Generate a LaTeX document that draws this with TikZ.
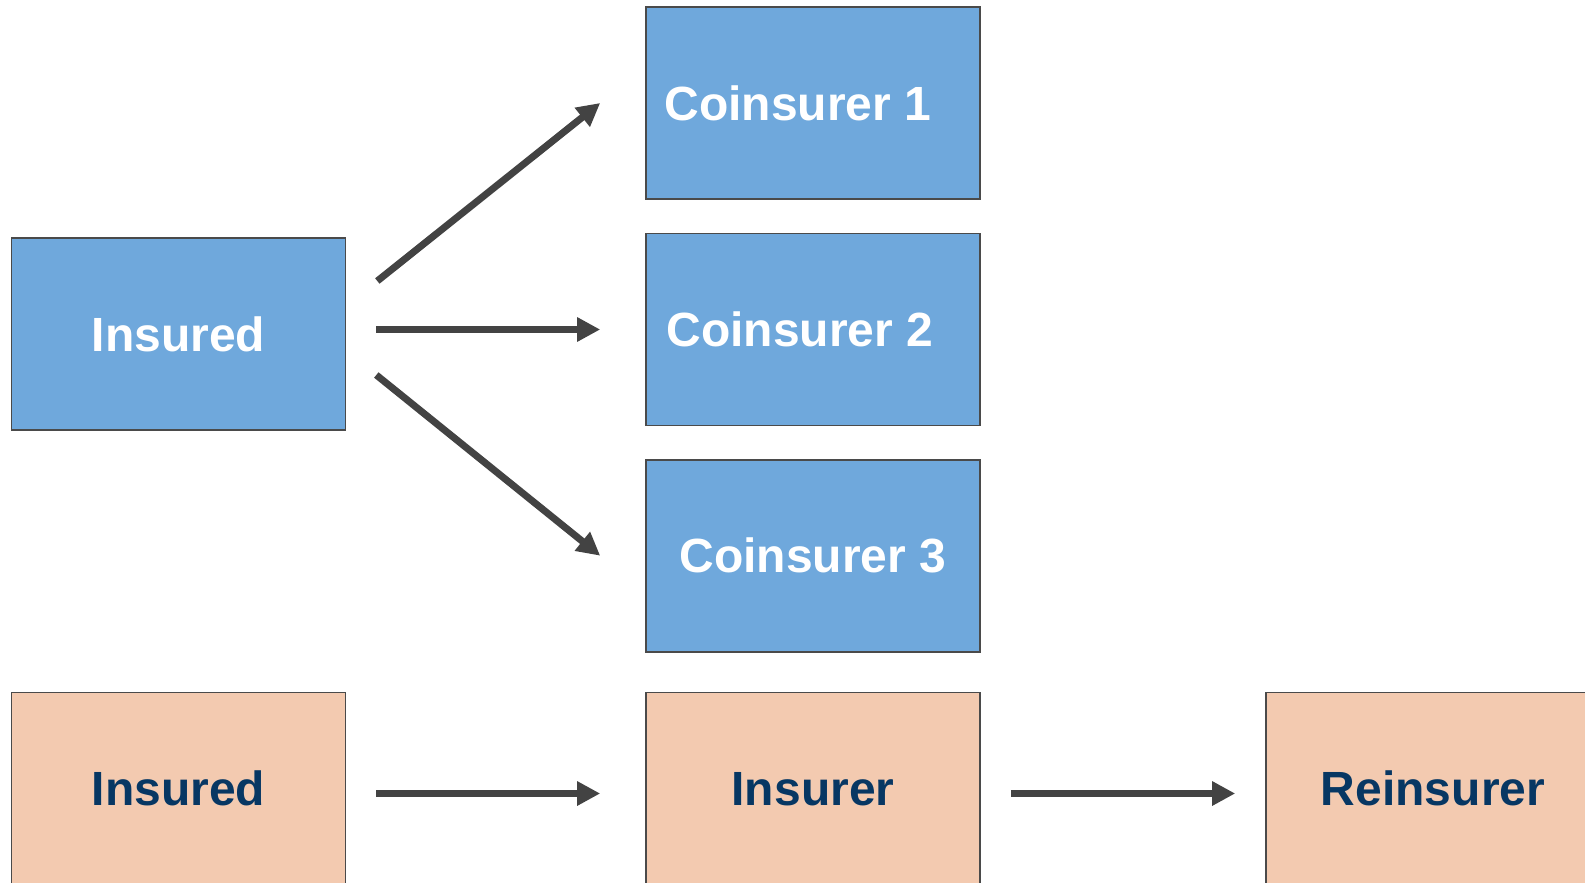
\documentclass[tikz,border=0pt]{standalone}
\usepackage{fontspec}
\setmainfont{Liberation Sans}
\usetikzlibrary{arrows.meta}
\definecolor{boxblue}{HTML}{6FA8DC}
\definecolor{boxpeach}{HTML}{F3CAB0}
\definecolor{boxline}{HTML}{4A4A4A}
\definecolor{arrowgray}{HTML}{434343}
\definecolor{navytext}{HTML}{073763}
\tikzset{
  box/.style={rectangle, draw=boxline, line width=1.6pt, minimum width=334pt, minimum height=192pt,
    inner sep=0pt, text height=34.3pt, text depth=0pt,
    font=\bfseries\fontsize{48}{58}\selectfont},
  bluebox/.style={box, fill=boxblue, text=white},
  peachbox/.style={box, fill=boxpeach, text=navytext},
  arr/.style={draw=arrowgray, line width=7pt, -{Triangle[length=23pt,width=23pt]}}
}
\begin{document}
\begin{tikzpicture}[x=1pt,y=-1pt]
\clip (0,0) rectangle (1585,883);
\fill[white] (0,0) rectangle (1585,883);
\node[bluebox] (ins) at (178.5,334) {Insured};
\node[bluebox] (c1) at (813,103) {Coinsurer 1\kern30pt};
\node[bluebox] (c2) at (813,329.5) {Coinsurer 2\kern26pt};
\node[bluebox] (c3) at (813,555.7) {Coinsurer 3};
\node[peachbox] (ins2) at (178.5,788.5) {Insured};
\node[peachbox] (isr) at (813,788.5) {Insurer};
\node[peachbox] (rei) at (1433,788.5) {Reinsurer};
\draw[arr] ([xshift=31pt,yshift=53pt]ins.east) -- ([xshift=-45pt]c1.west);
\draw[arr] (ins.east |- c2.west) ++(30pt,0) -- ([xshift=-45pt]c2.west);
\draw[arr] ([xshift=30pt,yshift=-41pt]ins.east) -- ([xshift=-45pt]c3.west);
\draw[arr] ([xshift=30pt,yshift=-5pt]ins2.east) -- ([xshift=-45pt,yshift=-5pt]isr.west);
\draw[arr] ([xshift=30pt,yshift=-5pt]isr.east) -- ([xshift=-30pt,yshift=-5pt]rei.west);
\end{tikzpicture}
\end{document}
